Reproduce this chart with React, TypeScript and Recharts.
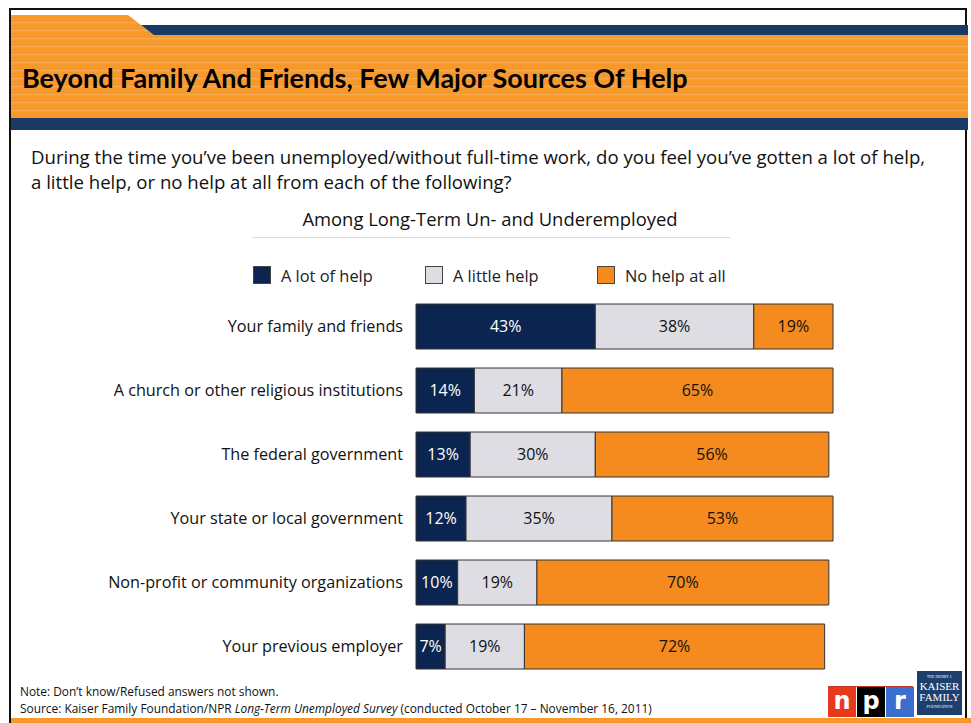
import { Bar, BarChart, LabelList, XAxis, YAxis } from "recharts";

const categories = [
  "Your family and friends",
  "A church or other religious institutions",
  "The federal government",
  "Your state or local government",
  "Non-profit or community organizations",
  "Your previous employer",
];
const lotOfHelp = [43, 14, 13, 12, 10, 7];
const littleHelp = [38, 21, 30, 35, 19, 19];
const noHelp = [19, 65, 56, 53, 70, 72];
const seriesNames = ["A lot of help", "A little help", "No help at all"];

const NAVY = "#0b2550";
const GRAY = "#dddde3";
const ORANGE = "#f58a1f";
const HEAD_ORANGE = "#f7982a";
const HEAD_NAVY = "#1a3a64";
const FONT = "'Open Sans', sans-serif";

const data = categories.map((name, i) => ({
  name,
  lot: lotOfHelp[i],
  little: littleHelp[i],
  none: noHelp[i],
}));

const pct = (v: any) => `${v}%`;

function Header() {
  return (
    <svg width={971} height={132} style={{ position: "absolute", left: 0, top: 0 }}>
      <defs>
        <pattern id="stripes" width={8} height={8} patternUnits="userSpaceOnUse">
          <rect width={8} height={8} fill={HEAD_ORANGE} />
          <rect y={6} width={8} height={1.2} fill="#f9ab52" />
        </pattern>
      </defs>
      <polygon points="11,15 128,15 155,36 11,36" fill="url(#stripes)" />
      <polygon points="141,25 968,25 968,36 155,36" fill={HEAD_NAVY} />
      <rect x={11} y={35} width={957} height={83} fill="url(#stripes)" />
      <rect x={11} y={118} width={957} height={12} fill={HEAD_NAVY} />
    </svg>
  );
}

function LegendRow() {
  const colors = [NAVY, GRAY, ORANGE];
  const xs = [253, 425, 597];
  return (
    <>
      {seriesNames.map((n, i) => (
        <div key={n}>
          <div
            style={{
              position: "absolute",
              left: xs[i],
              top: 266,
              width: 16,
              height: 16,
              background: colors[i],
              border: "1px solid #444",
            }}
          />
          <div
            style={{
              position: "absolute",
              left: xs[i] + 28,
              top: 265,
              fontSize: 16.4,
              lineHeight: "22px",
              color: "#222",
            }}
          >
            {n}
          </div>
        </div>
      ))}
    </>
  );
}

export default function App() {
  return (
    <div
      style={{
        position: "absolute",
        left: 0,
        top: 0,
        width: 971,
        height: 723,
        background: "#fff",
        overflow: "hidden",
        fontFamily: FONT,
        color: "#111",
      }}
    >
      <div
        style={{
          position: "absolute",
          left: 9,
          top: 8,
          width: 958,
          height: 720,
          border: "2px solid #111",
          boxSizing: "border-box",
        }}
      />
      <Header />
      <div
        style={{
          position: "absolute",
          left: 22,
          top: 58,
          fontFamily: "Lato, sans-serif",
          fontWeight: 700,
          fontSize: 27,
          lineHeight: "40px",
          color: "#000",
        }}
      >
        Beyond Family And Friends, Few Major Sources Of Help
      </div>
      <div
        style={{
          position: "absolute",
          left: 31,
          top: 144,
          width: 935,
          fontSize: 18.6,
          lineHeight: "25px",
          color: "#111",
        }}
      >
        During the time you’ve been unemployed/without full-time work, do you feel you’ve gotten a lot of help,
        <br />a little help, or no help at all from each of the following?
      </div>
      <div
        style={{
          position: "absolute",
          left: 240,
          top: 206,
          width: 500,
          textAlign: "center",
          fontSize: 18.4,
          lineHeight: "25px",
          color: "#111",
        }}
      >
        Among Long-Term Un- and Underemployed
      </div>
      <div style={{ position: "absolute", left: 252, top: 237, width: 478, height: 1, background: "#dcdcdc" }} />
      <LegendRow />

      <div style={{ position: "absolute", left: 0, top: 294 }}>
        <BarChart
          width={971}
          height={384}
          data={data}
          layout="vertical"
          barSize={45}
          margin={{ top: 0, right: 138, bottom: 0, left: 0 }}
        >
          <XAxis type="number" domain={[0, 100]} hide />
          <YAxis
            type="category"
            dataKey="name"
            width={416}
            tickLine={false}
            axisLine={false}
            tickSize={0}
            tickMargin={13}
            tick={{ fontSize: 16.2, fill: "#111", fontFamily: FONT }}
          />
          <Bar dataKey="lot" stackId="a" fill={NAVY} stroke="#333" strokeWidth={1} isAnimationActive={false}>
            <LabelList dataKey="lot" position="center" formatter={pct} fill="#fff" fontSize={16} fontFamily={FONT} />
          </Bar>
          <Bar dataKey="little" stackId="a" fill={GRAY} stroke="#333" strokeWidth={1} isAnimationActive={false}>
            <LabelList dataKey="little" position="center" formatter={pct} fill="#111" fontSize={16} fontFamily={FONT} />
          </Bar>
          <Bar dataKey="none" stackId="a" fill={ORANGE} stroke="#333" strokeWidth={1} isAnimationActive={false}>
            <LabelList dataKey="none" position="center" formatter={pct} fill="#111" fontSize={16} fontFamily={FONT} />
          </Bar>
        </BarChart>
      </div>

      <div style={{ position: "absolute", left: 20, top: 683, fontSize: 11.9, lineHeight: "17px", color: "#111" }}>
        Note: Don’t know/Refused answers not shown.
        <br />
        Source: Kaiser Family Foundation/NPR <i>Long-Term Unemployed Survey</i> (conducted October 17 – November 16, 2011)
      </div>

      <div style={{ position: "absolute", left: 828, top: 686, width: 85, height: 1, background: "#c0392b" }} />
      {[
        ["n", "#e8391f", 828],
        ["p", "#000", 857],
        ["r", "#3a6fd0", 886],
      ].map(([ch, bg, x]) => (
        <div
          key={ch as string}
          style={{
            position: "absolute",
            left: x as number,
            top: 687,
            width: 28,
            height: 30,
            background: bg as string,
            color: "#fff",
            fontFamily: "'DejaVu Sans', sans-serif",
            fontWeight: 700,
            fontSize: 24,
            lineHeight: "28px",
            textAlign: "center",
          }}
        >
          {ch}
        </div>
      ))}
      <div
        style={{
          position: "absolute",
          left: 917,
          top: 671,
          width: 45,
          height: 44,
          background: "#1d3f6e",
          color: "#fff",
          fontFamily: "'Liberation Serif', serif",
          textAlign: "center",
          lineHeight: 1,
        }}
      >
        <div style={{ fontSize: 4, marginTop: 4 }}>THE HENRY J.</div>
        <div style={{ fontSize: 11, marginTop: 2 }}>KAISER</div>
        <div style={{ fontSize: 11 }}>FAMILY</div>
        <div style={{ fontSize: 4, marginTop: 2 }}>FOUNDATION</div>
      </div>
      <div style={{ position: "absolute", left: 11, top: 718, width: 960, height: 5, background: HEAD_ORANGE }} />
    </div>
  );
}
